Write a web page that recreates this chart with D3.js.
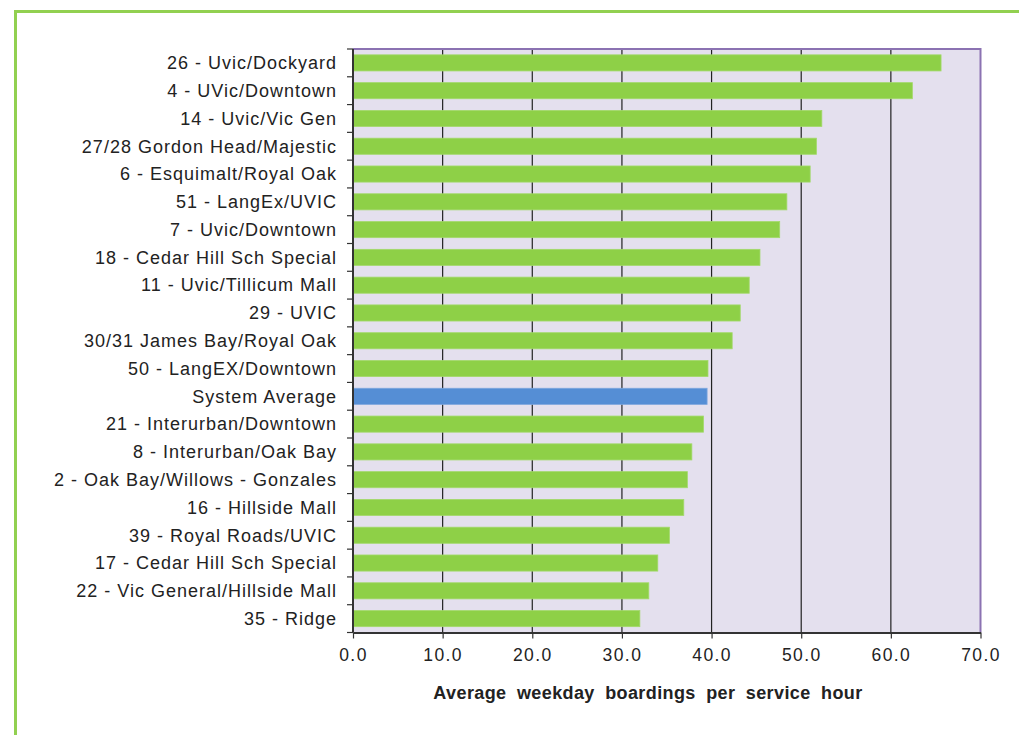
<!DOCTYPE html>
<html>
<head>
<meta charset="utf-8">
<script src="https://cdn.jsdelivr.net/npm/d3@7"></script>
<style>
  body { margin: 0; background: #fff; }
  svg text { font-family: "Liberation Sans", Arial, sans-serif; fill: #222; }
</style>
</head>
<body>
<svg id="chart" width="1019" height="735"></svg>
<script>
// route names, top to bottom
const routes = [
  "26 - Uvic/Dockyard", "4 - UVic/Downtown", "14 - Uvic/Vic Gen",
  "27/28 Gordon Head/Majestic", "6 - Esquimalt/Royal Oak", "51 - LangEx/UVIC",
  "7 - Uvic/Downtown", "18 - Cedar Hill Sch Special", "11 - Uvic/Tillicum Mall",
  "29 - UVIC", "30/31 James Bay/Royal Oak", "50 - LangEX/Downtown",
  "System Average", "21 - Interurban/Downtown", "8 - Interurban/Oak Bay",
  "2 - Oak Bay/Willows - Gonzales", "16 - Hillside Mall", "39 - Royal Roads/UVIC",
  "17 - Cedar Hill Sch Special", "22 - Vic General/Hillside Mall", "35 - Ridge"
];
// boardings per service hour
const boardings = [
  65.6, 62.4, 52.3, 51.7, 51.0, 48.4, 47.6, 45.4, 44.2, 43.2, 42.3,
  39.6, 39.5, 39.1, 37.8, 37.3, 36.9, 35.3, 34.0, 33.0, 32.0
];
const xTicks = [0, 10, 20, 30, 40, 50, 60, 70];
const xTitle = "Average weekday boardings per service hour";

const data = routes.map((r, i) => ({ route: r, value: boardings[i] }));

const svg = d3.select("#chart");
const plotL = 353, plotR = 980.5, plotT = 49, plotB = 632.5;

// green frame (only top and left edges show)
svg.append("path")
  .attr("d", "M15.5,735 L15.5,11.5 L1019,11.5")
  .attr("fill", "none")
  .attr("stroke", "#92D050")
  .attr("stroke-width", 3);

const x = d3.scaleLinear().domain([0, 70]).range([plotL, plotR]);
const y = d3.scaleBand().domain(routes).range([plotT, plotB])
  .paddingInner(0.42).paddingOuter(0.21);

// plot background
svg.append("rect")
  .attr("x", plotL).attr("y", plotT)
  .attr("width", plotR - plotL).attr("height", plotB - plotT)
  .attr("fill", "#E4E0EE");

// gridlines
svg.append("g").selectAll("line")
  .data(xTicks.slice(1, -1))
  .enter().append("line")
  .attr("x1", d => x(d)).attr("x2", d => x(d))
  .attr("y1", plotT).attr("y2", plotB)
  .attr("stroke", "#222").attr("stroke-width", 1.2);

// bars
svg.append("g").selectAll("rect")
  .data(data)
  .enter().append("rect")
  .attr("x", x(0))
  .attr("y", d => y(d.route))
  .attr("width", d => x(d.value) - x(0))
  .attr("height", y.bandwidth())
  .attr("fill", d => d.route === "System Average" ? "#558ED5" : "#8ED047")
  .attr("stroke", d => d.route === "System Average" ? "#7DA6DE" : "#A3D96B")
  .attr("stroke-width", 0.8);

// purple border top and right
svg.append("path")
  .attr("d", `M${plotL},${plotT} L${plotR},${plotT} L${plotR},${plotB}`)
  .attr("fill", "none")
  .attr("stroke", "#8B72B2")
  .attr("stroke-width", 2);

// x axis
const xAxis = svg.append("g")
  .attr("transform", `translate(0,${plotB})`)
  .call(d3.axisBottom(x).tickValues(xTicks).tickFormat(d3.format(".1f"))
    .tickSizeInner(6).tickSizeOuter(0).tickPadding(10));
xAxis.select(".domain").attr("stroke", "#333").attr("stroke-width", 2);
xAxis.selectAll(".tick line").attr("stroke", "#333").attr("stroke-width", 1.2);
xAxis.selectAll("text")
  .style("font-size", "17.5px")
  .style("letter-spacing", "1.4px")
  .attr("fill", "#222");

// y axis: ticks between categories
const yAxis = svg.append("g").attr("transform", `translate(${plotL},0)`);
yAxis.append("line")
  .attr("x1", 0).attr("x2", 0).attr("y1", plotT).attr("y2", plotB)
  .attr("stroke", "#333").attr("stroke-width", 2);
const step = y.step();
yAxis.selectAll(".ytick")
  .data(d3.range(routes.length + 1))
  .enter().append("line")
  .attr("x1", -6).attr("x2", 0)
  .attr("y1", i => plotT + i * step).attr("y2", i => plotT + i * step)
  .attr("stroke", "#333").attr("stroke-width", 1.2);
yAxis.selectAll(".ylab")
  .data(routes)
  .enter().append("text")
  .attr("x", -16)
  .attr("y", d => y(d) + y.bandwidth() / 2)
  .attr("dy", "0.35em")
  .attr("text-anchor", "end")
  .style("font-size", "18px")
  .style("letter-spacing", "1px")
  .text(d => d);

// axis title
svg.append("text")
  .attr("x", 648)
  .attr("y", 699)
  .attr("text-anchor", "middle")
  .style("font-size", "18px")
  .style("font-weight", "bold")
  .style("letter-spacing", "0.4px")
  .style("word-spacing", "5px")
  .text(xTitle);
</script>
</body>
</html>
